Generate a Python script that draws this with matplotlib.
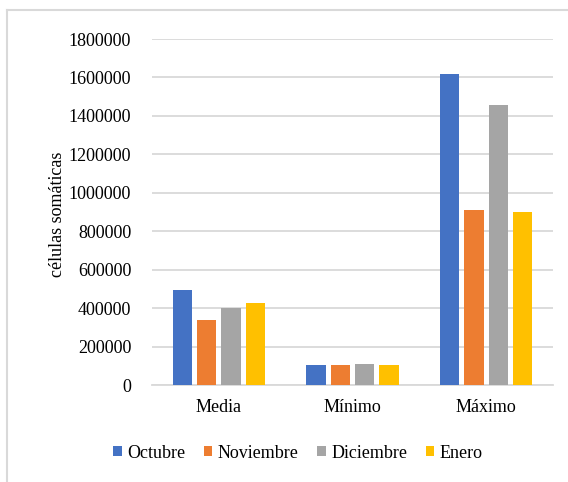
import matplotlib
matplotlib.use("Agg")
import matplotlib.pyplot as plt
from matplotlib.lines import Line2D
import numpy as np

categories = ["Media", "Mínimo", "Máximo"]
series_names = ["Octubre", "Noviembre", "Diciembre", "Enero"]
octubre = [494000, 102000, 1620000]
noviembre = [338000, 102000, 912000]
diciembre = [400000, 109000, 1455000]
enero = [426000, 102000, 902000]
y_ticks = [0, 200000, 400000, 600000, 800000, 1000000, 1200000, 1400000, 1600000, 1800000]
y_label = "células somáticas"

colors = ["#4472C4", "#ED7D31", "#A5A5A5", "#FFC000"]

plt.rcParams["font.family"] = ["Liberation Serif", "DejaVu Serif"]

fig = plt.figure(figsize=(5.68, 4.82), dpi=100)
ax = fig.add_axes([152 / 568, 1 - 385 / 482, (553 - 152) / 568, (385 - 39) / 482])

x = np.arange(len(categories))
pitch = 0.182
width = 0.145
all_series = [octubre, noviembre, diciembre, enero]
for i, (vals, name, c) in enumerate(zip(all_series, series_names, colors)):
    offset = (i - 1.5) * pitch
    ax.bar(x + offset, vals, width=width, color=c, label=name, zorder=3)

ax.set_xlim(-0.5, len(categories) - 0.5)
ax.set_ylim(0, 1800000)
ax.set_yticks(y_ticks)
ax.set_yticklabels([str(t) for t in y_ticks], fontsize=13)
ax.set_xticks(x)
ax.set_xticklabels(categories, fontsize=13)
ax.tick_params(axis="y", length=0, pad=15)
ax.tick_params(axis="x", length=0, pad=10)
ax.grid(axis="y", color="#D9D9D9", linewidth=1.3, zorder=0)
for s in ["top", "right", "left"]:
    ax.spines[s].set_visible(False)
ax.spines["bottom"].set_color("#D9D9D9")
ax.spines["bottom"].set_linewidth(1.3)

fig.text(57 / 568, 1 - 214 / 482, y_label, rotation=90, fontsize=13,
         ha="center", va="center")

leg = fig.legend(loc="center", bbox_to_anchor=(298 / 568, 1 - 453 / 482),
                 ncol=4, frameon=False, fontsize=13, handlelength=0.45,
                 handleheight=0.45, handletextpad=0.3, columnspacing=1.05)

# chart frame (top and left edges)
fig.add_artist(Line2D([7 / 568, 7 / 568], [0, 1 - 10 / 482], transform=fig.transFigure,
                      color="#D9D9D9", linewidth=1.5))
fig.add_artist(Line2D([7 / 568, 1], [1 - 10 / 482, 1 - 10 / 482], transform=fig.transFigure,
                      color="#D9D9D9", linewidth=1.5))

fig.savefig("out.png", dpi=100)
